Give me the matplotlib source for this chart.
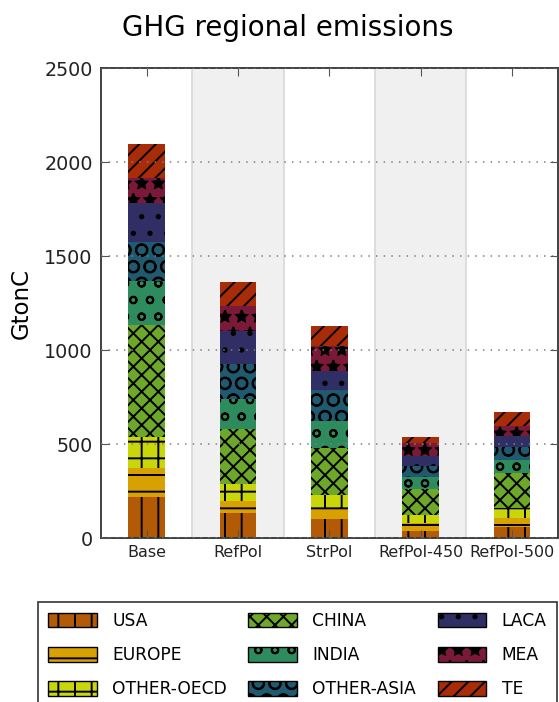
import numpy as np
import matplotlib
matplotlib.use("Agg")
import matplotlib.pyplot as plt
from matplotlib.patches import Patch

scenarios = ["Base", "RefPol", "StrPol", "RefPol-450", "RefPol-500"]
regions = ["USA", "EUROPE", "OTHER-OECD", "CHINA", "INDIA", "OTHER-ASIA", "LACA", "MEA", "TE"]

usa = [217, 132, 105, 41, 60]
europe = [155, 67, 57, 42, 50]
other_oecd = [169, 89, 68, 41, 53]
china = [593, 293, 249, 138, 183]
india = [235, 160, 146, 64, 71]
other_asia = [205, 187, 165, 61, 71]
laca = [210, 174, 98, 49, 57]
mea = [132, 134, 134, 71, 53]
te = [183, 128, 107, 34, 72]

colors = ["#b35a06", "#d9a100", "#c9d60a", "#6ea82a", "#2e8b5e",
          "#1f5a70", "#2f2f66", "#7a1a38", "#a82c08"]
hatches = ["|", "-", "+", "xx", "o", "O", ".", "*", "//"]

plt.rcParams["hatch.linewidth"] = 1.4
plt.rcParams["font.family"] = "DejaVu Sans"

fig = plt.figure(figsize=(5.59, 7.02), dpi=100)
ax = fig.add_axes([0.1807, 0.2332, 0.817, 0.6695])

x = np.arange(len(scenarios))

# alternating shaded bands
for i in x:
    if i % 2 == 1:
        ax.axvspan(i - 0.5, i + 0.5, facecolor="#f0f0f0", edgecolor="#d8d8d8",
                   linewidth=1.2, zorder=0)

series = [usa, europe, other_oecd, china, india, other_asia, laca, mea, te]
bottom = np.zeros(len(scenarios))
for vals, c, h in zip(series, colors, hatches):
    ax.bar(x, vals, 0.4, bottom=bottom, color=c, edgecolor="k", linewidth=0,
           hatch=h, zorder=1)
    bottom += np.array(vals)

ax.set_xlim(-0.5, 4.5)
ax.set_ylim(0, 2500)
ax.set_yticks([0, 500, 1000, 1500, 2000, 2500])
ax.set_xticks(x)
ax.set_xticklabels(scenarios, fontsize=11.5)
ax.tick_params(axis="y", labelsize=13.8, pad=6)
ax.tick_params(axis="x", pad=5)
ax.tick_params(direction="in", length=6, top=True, right=True, color="#555555",
               labelcolor="#222222")

ax.set_axisbelow(False)
ax.yaxis.grid(True, linestyle=(0, (1, 4)), color="#808080", linewidth=1.1)

for s in ax.spines.values():
    s.set_color("#333333")
    s.set_linewidth(1.3)

ax.set_ylabel("GtonC", fontsize=16.5)
ax.yaxis.set_label_coords(-0.149, 0.5)

fig.text(287.5 / 559, 1 - 35.5 / 702, "GHG regional emissions", fontsize=20,
         ha="center", va="baseline")

handles = [Patch(facecolor=c, edgecolor="k", linewidth=1, hatch=h)
           for c, h in zip(colors, hatches)]
leg = fig.legend(handles, regions, ncol=3, loc="upper left",
                 bbox_to_anchor=(38 / 559, 1 - 601.7 / 702), fontsize=12.3,
                 frameon=True, fancybox=False, handlelength=2.85,
                 handleheight=0.95, handletextpad=0.9, columnspacing=1.25,
                 labelspacing=0.95, borderpad=0.6, borderaxespad=0)
leg.get_frame().set_edgecolor("k")
leg.get_frame().set_linewidth(1.2)

fig.savefig("out.png", dpi=100)
